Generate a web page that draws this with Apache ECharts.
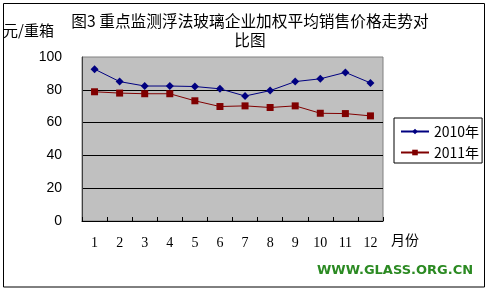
<!DOCTYPE html>
<html>
<head>
<meta charset="utf-8">
<script src="https://cdn.jsdelivr.net/npm/echarts@6/dist/echarts.min.js"></script>
<style>
html,body{margin:0;padding:0;background:#fff;}
#c{width:490px;height:292px;}
</style>
</head>
<body>
<div id="c"></div>
<script>
const months = ['1','2','3','4','5','6','7','8','9','10','11','12'];
const seriesNames = ['2010年','2011年'];
const values2010 = [92.6, 85.0, 82.3, 82.3, 82.0, 80.6, 76.2, 79.5, 85.0, 86.7, 90.6, 84.2];
const values2011 = [78.8, 78.0, 77.6, 77.6, 73.3, 69.8, 70.2, 69.2, 70.2, 65.7, 65.5, 64.1];
const yTicks = [0, 20, 40, 60, 80, 100];
const titleText = '图3 重点监测浮法玻璃企业加权平均销售价格走势对\n比图';
const unitText = '元/重箱';
const xUnitText = '月份';
const siteText = 'WWW.GLASS.ORG.CN';

const cjk = '"Noto Sans CJK SC", sans-serif';
const chart = echarts.init(document.getElementById('c'), null, {renderer: 'canvas'});
chart.setOption({
  backgroundColor: '#ffffff',
  animation: false,
  title: [
    {text: titleText, left: 250, textAlign: 'center', top: 12, padding: 0,
     textStyle: {fontSize: 15.7, fontWeight: 'normal', lineHeight: 19, fontFamily: cjk, color: '#000'}},
    {text: unitText, left: 3, top: 21, padding: 0,
     textStyle: {fontSize: 15, fontWeight: 'normal', lineHeight: 18, fontFamily: cjk, color: '#000'}},
    {text: xUnitText, left: 391, top: 231, padding: 0,
     textStyle: {fontSize: 14, fontWeight: 'normal', lineHeight: 18, fontFamily: cjk, color: '#000'}},
    {text: siteText, left: 317, top: 263, padding: 0,
     textStyle: {fontSize: 13, fontWeight: 'bold', lineHeight: 16, fontFamily: '"DejaVu Sans", sans-serif', color: '#2b8a22'}}
  ],
  graphic: [
    {type: 'rect', shape: {x: 3.5, y: 3.5, width: 481, height: 283.5},
     style: {fill: 'none', stroke: '#000', lineWidth: 1}, silent: true, z: 100}
  ],
  legend: {
    orient: 'vertical', left: 394, top: 118,
    data: seriesNames,
    borderColor: '#000', borderWidth: 1, padding: [3, 3, 0, 6],
    itemGap: 0, itemWidth: 28, itemHeight: 7,
    textStyle: {fontSize: 14, lineHeight: 21, fontFamily: cjk, color: '#000'}
  },
  grid: {
    left: 82, top: 57, width: 301, height: 164,
    show: true, backgroundColor: '#c0c0c0', borderColor: '#808080', borderWidth: 1
  },
  xAxis: {
    type: 'category', data: months, boundaryGap: true,
    axisLine: {show: true, lineStyle: {color: '#000', width: 1}},
    axisTick: {show: true, inside: true, length: 4, lineStyle: {color: '#000'}},
    axisLabel: {interval: 0, margin: 15, fontSize: 14, color: '#000',
                fontFamily: '"Liberation Serif", serif'},
    splitLine: {show: false}
  },
  yAxis: {
    type: 'value', min: yTicks[0], max: yTicks[yTicks.length - 1], interval: 20,
    axisLine: {show: true, lineStyle: {color: '#404040', width: 1}},
    axisTick: {show: false},
    axisLabel: {margin: 20, fontSize: 14, color: '#000', padding: [4, 0, 0, 0],
                fontFamily: '"Liberation Sans", sans-serif'},
    splitLine: {show: true, lineStyle: {color: ['#000', '#000', '#000', '#000', '#000', 'transparent'], width: 1}}
  },
  series: [
    {name: seriesNames[0], type: 'line', data: values2010,
     symbol: 'diamond', symbolSize: 8,
     lineStyle: {color: '#000080', width: 1}, itemStyle: {color: '#000080'}},
    {name: seriesNames[1], type: 'line', data: values2011,
     symbol: 'rect', symbolSize: 7,
     lineStyle: {color: '#800000', width: 1}, itemStyle: {color: '#800000'}}
  ]
});
</script>
</body>
</html>
